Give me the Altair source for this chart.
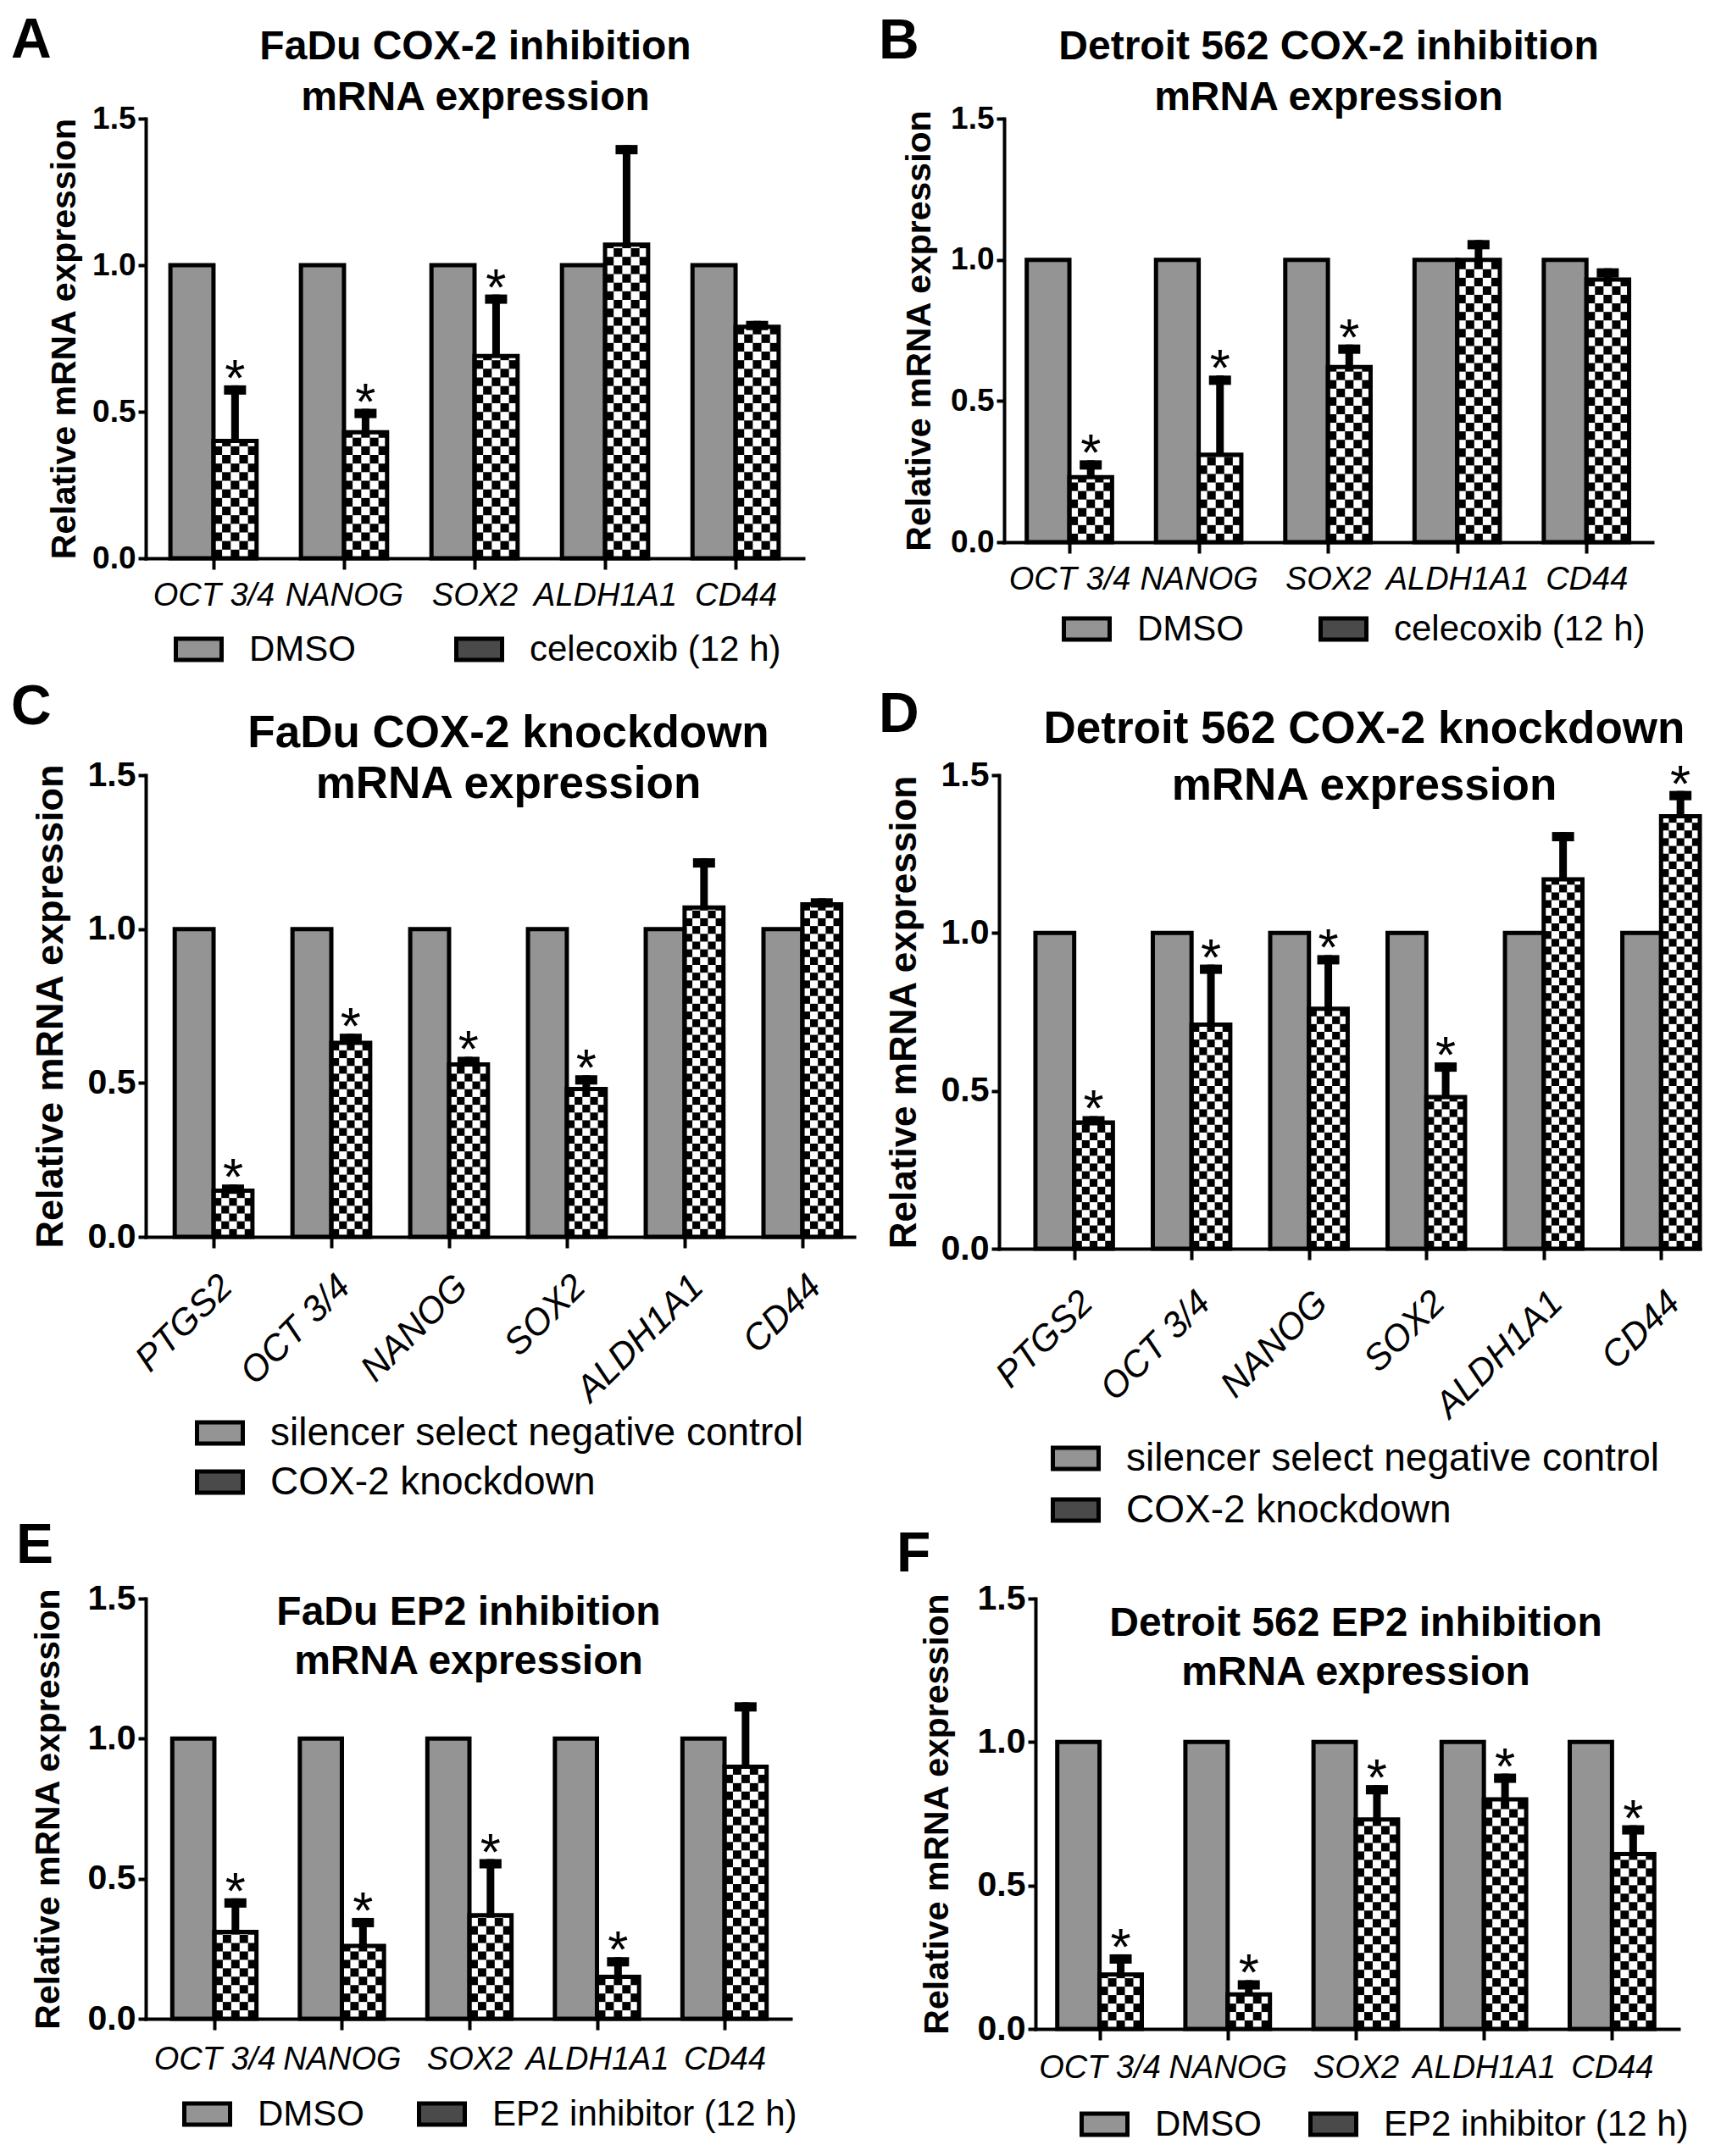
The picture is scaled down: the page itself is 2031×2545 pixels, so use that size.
import json
import altair as alt
import pandas as pd

FONT = "Liberation Sans"
CTRL_GRAY = "#949494"
TRT_LEGEND = "#4a4a4a"
BW = 0.33      # bar width in category units
NC = 5         # checker columns per treatment bar
RECT_PATH = "M-1,-0.46H1V0.46H-1Z"
LETTER_FS = 66
ENTRY_HALF = 27

# ---------------- data ----------------
A_genes = ["OCT 3/4", "NANOG", "SOX2", "ALDH1A1", "CD44"]
A_ctrl = [1.0, 1.0, 1.0, 1.0, 1.0]
A_trt = [0.40, 0.43, 0.69, 1.07, 0.79]
A_err = [0.59, 0.51, 0.90, 1.41, 0.81]
A_sig = [1, 1, 1, 0, 0]

B_genes = ["OCT 3/4", "NANOG", "SOX2", "ALDH1A1", "CD44"]
B_ctrl = [1.0, 1.0, 1.0, 1.0, 1.0]
B_trt = [0.23, 0.31, 0.62, 1.00, 0.93]
B_err = [0.29, 0.59, 0.70, 1.07, 0.97]
B_sig = [1, 1, 1, 0, 0]

C_genes = ["PTGS2", "OCT 3/4", "NANOG", "SOX2", "ALDH1A1", "CD44"]
C_ctrl = [1.0, 1.0, 1.0, 1.0, 1.0, 1.0]
C_trt = [0.15, 0.63, 0.56, 0.48, 1.07, 1.08]
C_err = [0.17, 0.66, 0.585, 0.525, 1.23, 1.10]
C_sig = [1, 1, 1, 1, 0, 0]

D_genes = ["PTGS2", "OCT 3/4", "NANOG", "SOX2", "ALDH1A1", "CD44"]
D_ctrl = [1.0, 1.0, 1.0, 1.0, 1.0, 1.0]
D_trt = [0.40, 0.71, 0.76, 0.48, 1.17, 1.37]
D_err = [0.42, 0.90, 0.93, 0.59, 1.32, 1.45]
D_sig = [1, 1, 1, 1, 0, 1]

E_genes = ["OCT 3/4", "NANOG", "SOX2", "ALDH1A1", "CD44"]
E_ctrl = [1.0, 1.0, 1.0, 1.0, 1.0]
E_trt = [0.31, 0.26, 0.37, 0.15, 0.90]
E_err = [0.43, 0.36, 0.57, 0.22, 1.13]
E_sig = [1, 1, 1, 1, 0]

F_genes = ["OCT 3/4", "NANOG", "SOX2", "ALDH1A1", "CD44"]
F_ctrl = [1.0, 1.0, 1.0, 1.0, 1.0]
F_trt = [0.19, 0.12, 0.73, 0.80, 0.61]
F_err = [0.26, 0.17, 0.85, 0.89, 0.71]
F_sig = [1, 1, 1, 1, 1]

LEG_CELE = ["DMSO", "celecoxib (12 h)"]
LEG_KD = ["silencer select negative control", "COX-2 knockdown"]
LEG_EP2 = ["DMSO", "EP2 inhibitor (12 h)"]

TITLE_A = ["FaDu COX-2 inhibition", "mRNA expression"]
TITLE_B = ["Detroit 562 COX-2 inhibition", "mRNA expression"]
TITLE_C = ["FaDu COX-2 knockdown", "mRNA expression"]
TITLE_D = ["Detroit 562 COX-2 knockdown", "mRNA expression"]
TITLE_E = ["FaDu EP2 inhibition", "mRNA expression"]
TITLE_F = ["Detroit 562 EP2 inhibition", "mRNA expression"]

YTITLE = "Relative mRNA expression"


def panel(letter, genes, ctrl, trt, err, sig, labels, title, g):
    n = len(genes)
    rows = []
    for i, gn in enumerate(genes):
        rows.append({"gene": gn, "idx": i, "gi": 0, "grp": labels[0],
                     "value": ctrl[i], "err": ctrl[i], "sig": 0})
        rows.append({"gene": gn, "idx": i, "gi": 1, "grp": labels[1],
                     "value": trt[i], "err": err[i], "sig": int(sig[i])})
    df = pd.DataFrame(rows)
    ox, oy = g["ox"], g["oy"]
    W, H = g["w"], g["h"]
    lpad, rpad = g["lpad"], g["rpad"]
    step = W / (n - 1 + lpad + rpad)
    upx = H / 1.5
    cellw = BW / NC
    cellh = (BW * step / NC) / upx

    # positions of the free texts, relative to the plot origin
    lx = g["let"][0] - ox
    ly = g["let"][1] - 0.074 * LETTER_FS - oy
    tx = g["tcx"] - ox
    ty = g["tcy"] + 0.358 * g["tfs"] - oy
    ytx = g["ytc"] + 0.058 * g["ytfs"] - ox
    lgx = g["lsw"] - ox
    lgy = g["lcy"] - ENTRY_HALF - oy

    xscale = alt.Scale(domain=[-lpad, n - 1 + rpad], nice=False, zero=False)
    yscale = alt.Scale(domain=[0, 1.5], nice=False, zero=False)
    rot = g["xangle"] != 0
    xaxis = alt.Axis(
        title=None, values=list(range(n)),
        labelExpr=json.dumps(genes) + "[datum.value]",
        grid=False, domainColor="black", domainWidth=4, domainCap="square",
        tickColor="black", tickWidth=4, tickSize=13,
        labelFont=FONT, labelFontSize=g["xfs"], labelFontStyle="italic",
        labelColor="black", labelPadding=g["xpad"], labelAngle=g["xangle"],
        labelAlign="right" if rot else "center", labelBaseline="top",
        labelFlush=False, labelOverlap=False, labelBound=False, labelLimit=1000,
    )
    yaxis = alt.Axis(
        title=YTITLE, values=[0, 0.5, 1.0, 1.5], format=".1f", grid=False,
        domainColor="black", domainWidth=4, domainCap="square",
        tickColor="black", tickWidth=4, tickSize=9,
        labelFont=FONT, labelFontSize=g["yfs"], labelFontWeight="bold",
        labelColor="black", labelPadding=3, labelFlush=False, labelOverlap=False,
        titleFont=FONT, titleFontSize=g["ytfs"], titleFontWeight="bold",
        titleColor="black", titleX=ytx, titleY=H / 2, titleAngle=270,
        titleBaseline="middle", titleAlign="center", titleLimit=2000,
    )
    legend = alt.Legend(
        title=None, orient="none", legendX=lgx, legendY=lgy,
        direction=g["ldir"], symbolType=RECT_PATH, symbolSize=2916,
        symbolStrokeColor="black", symbolStrokeWidth=5, symbolOpacity=1,
        labelFont=FONT, labelFontSize=g["lfs"], labelColor="black",
        labelOffset=30, labelLimit=2000, columnPadding=g["lcp"],
        rowPadding=g["lrp"], padding=0,
    )

    def X(f):
        return alt.X(f, scale=xscale, axis=xaxis)

    def Y(f):
        return alt.Y(f, scale=yscale, axis=yaxis)

    base = alt.Chart(df).transform_calculate(
        x0=f"datum.idx + (datum.gi - 1) * {BW}",
        x1=f"datum.idx + datum.gi * {BW}",
        xm=f"datum.idx + {BW / 2}",
        zero="0",
    )
    trt_only = base.transform_filter("datum.gi == 1")

    bars = base.mark_rect(strokeWidth=0).encode(
        x=X("x0:Q"), x2="x1:Q", y=Y("value:Q"), y2="zero:Q",
        fill=alt.Fill("grp:N", scale=alt.Scale(domain=labels, range=[CTRL_GRAY, TRT_LEGEND]),
                      legend=legend),
    )
    trt_base = trt_only.mark_rect(fill="black", strokeWidth=0).encode(
        x=X("x0:Q"), x2="x1:Q", y=Y("value:Q"), y2="zero:Q")
    cells = trt_only.transform_calculate(
        ks=f"sequence(0, ceil(datum.value / {cellh}))",
        cs=f"sequence(0, {NC})",
    ).transform_flatten(["ks"], as_=["k"]).transform_flatten(["cs"], as_=["c"]).transform_filter(
        "(datum.k + datum.c) % 2 == 1"
    ).transform_calculate(
        cx0=f"datum.idx + datum.c * {cellw}",
        cx1=f"datum.idx + (datum.c + 1) * {cellw}",
        cy0=f"datum.k * {cellh}",
        cy1=f"min((datum.k + 1) * {cellh}, datum.value)",
    ).mark_rect(fill="white", strokeWidth=0).encode(
        x=X("cx0:Q"), x2="cx1:Q", y=Y("cy1:Q"), y2="cy0:Q")
    outline = base.mark_rect(fillOpacity=0, stroke="black", strokeWidth=5,
                             strokeJoin="miter").encode(
        x=X("x0:Q"), x2="x1:Q", y=Y("value:Q"), y2="zero:Q")
    stem = trt_only.mark_rule(color="black", strokeWidth=9).encode(
        x=X("xm:Q"), y=Y("value:Q"), y2="err:Q")
    cap = trt_only.mark_tick(color="black", orient="horizontal", size=26,
                             thickness=11, yOffset=5.5, opacity=1).encode(
        x=X("xm:Q"), y=Y("err:Q"))
    stars = base.transform_filter("datum.sig == 1").mark_text(
        text="*", font=FONT, fontSize=62, color="black", align="center",
        baseline="alphabetic", dy=12).encode(x=X("xm:Q"), y=Y("err:Q"))

    one = pd.DataFrame({"k": [0]})
    letter_t = alt.Chart(one).mark_text(
        text=letter, font=FONT, fontSize=LETTER_FS, fontWeight="bold", color="black",
        align="left", baseline="top").encode(x=alt.value(lx), y=alt.value(ly))
    title_t = alt.Chart(one).mark_text(
        text=title, font=FONT, fontSize=g["tfs"], fontWeight="bold", color="black",
        align="center", baseline="alphabetic", lineHeight=g["tlh"]).encode(
        x=alt.value(tx), y=alt.value(ty))

    return alt.layer(bars, trt_base, cells, outline, stem, cap, stars,
                     letter_t, title_t).properties(width=W, height=H)


# layout, in page pixels: plot origin, size, and where the texts sit
X0 = 172
Y1, Y2, Y3 = 140, 916, 1889
GA = dict(ox=X0, oy=Y1, w=776, h=519, lpad=0.519, rpad=0.519,
          xangle=0, xfs=38, xpad=12, yfs=37, ytfs=41, ytc=74,
          lsw=205, lcy=764, ldir="horizontal", lfs=42, lcp=108, lrp=0,
          let=(13, 21), tcx=561, tcy=53, tfs=48, tlh=60)
GB = dict(ox=1187, oy=Y1, w=765, h=500, lpad=0.505, rpad=0.51,
          xangle=0, xfs=38, xpad=12, yfs=37, ytfs=41, ytc=1085,
          lsw=1255, lcy=740, ldir="horizontal", lfs=42, lcp=80, lrp=0,
          let=(1039, 22), tcx=1570, tcy=53, tfs=48, tlh=60)
GC = dict(ox=X0, oy=Y2, w=836, h=545, lpad=0.576, rpad=0.44,
          xangle=315, xfs=43, xpad=24, yfs=41, ytfs=45, ytc=57,
          lsw=230, lcy=1690, ldir="vertical", lfs=46, lcp=20, lrp=5,
          let=(13, 809), tcx=600, tcy=864, tfs=53, tlh=60)
GD = dict(ox=1181, oy=Y2, w=827, h=559, lpad=0.64, rpad=0.33,
          xangle=315, xfs=43, xpad=29, yfs=41, ytfs=44, ytc=1067,
          lsw=1242, lcy=1720, ldir="vertical", lfs=46, lcp=20, lrp=8,
          let=(1039, 818), tcx=1612, tcy=859, tfs=53, tlh=67)
GE = dict(ox=X0, oy=Y3, w=761, h=496, lpad=0.538, rpad=0.518,
          xangle=0, xfs=38, xpad=16, yfs=41, ytfs=41, ytc=55,
          lsw=215, lcy=2495, ldir="horizontal", lfs=42, lcp=54, lrp=0,
          let=(19, 1800), tcx=553, tcy=1903, tfs=48, tlh=58)
GF = dict(ox=1216, oy=Y3, w=759, h=508, lpad=0.5, rpad=0.52,
          xangle=0, xfs=38, xpad=14, yfs=41, ytfs=41, ytc=1098,
          lsw=1268, lcy=2507, ldir="horizontal", lfs=42, lcp=47, lrp=0,
          let=(1052, 1810), tcx=1594, tcy=1916, tfs=48, tlh=58)

pA = panel("A", A_genes, A_ctrl, A_trt, A_err, A_sig, LEG_CELE, TITLE_A, GA)
pB = panel("B", B_genes, B_ctrl, B_trt, B_err, B_sig, LEG_CELE, TITLE_B, GB)
pC = panel("C", C_genes, C_ctrl, C_trt, C_err, C_sig, LEG_KD, TITLE_C, GC)
pD = panel("D", D_genes, D_ctrl, D_trt, D_err, D_sig, LEG_KD, TITLE_D, GD)
pE = panel("E", E_genes, E_ctrl, E_trt, E_err, E_sig, LEG_EP2, TITLE_E, GE)
pF = panel("F", F_genes, F_ctrl, F_trt, F_err, F_sig, LEG_EP2, TITLE_F, GF)


def indep(c):
    return c.resolve_scale(x="independent", y="independent", fill="independent").resolve_axis(
        x="independent", y="independent").resolve_legend(fill="independent")


row1 = indep(alt.hconcat(pA, pB, spacing=89))
row2 = indep(alt.hconcat(pC, pD, spacing=29))
row3 = indep(alt.hconcat(pE, pF, spacing=117))
top = indep(alt.vconcat(row1, row2, spacing=13))
chart = indep(alt.vconcat(top, row3, spacing=-14)).properties(
    padding={"left": 5, "top": 7, "right": 5, "bottom": 5}, background="white"
).configure_view(stroke=None)

chart.save("out.html", embed_options={"renderer": "svg", "actions": False})
